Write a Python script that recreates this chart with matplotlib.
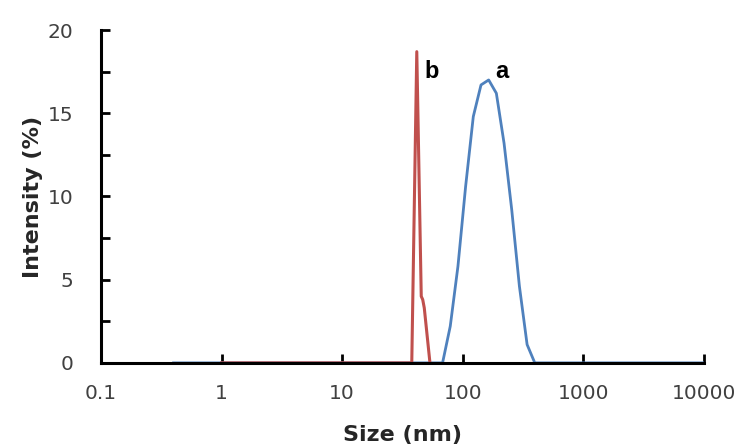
import numpy as np
import matplotlib.pyplot as plt
from matplotlib.ticker import FixedLocator, MultipleLocator, FixedFormatter

# sample a (blue) - size in nm, intensity in %
size_a = [0.4, 58.77, 68.06, 78.82, 91.28, 105.7, 122.4, 141.8, 164.2,
          190.1, 220.2, 255.0, 295.3, 342.0, 396.1, 10000]
int_a = [0, 0, 0, 2.2, 5.8, 10.6, 14.8, 16.7, 17.0,
         16.2, 13.2, 9.2, 4.6, 1.1, 0, 0]

# sample b (red)
size_b = [1.0, 37.8, 41.6, 45.3, 46.6, 48.0, 53.5]
int_b = [0, 0, 18.7, 4.0, 3.8, 3.3, 0]

xticks = [0.1, 1, 10, 100, 1000, 10000]
xtick_labels = ['0.1', '1', '10', '100', '1000', '10000']

blue = '#4F81BD'
red = '#C0504D'
grey = '#404040'

fig = plt.figure(figsize=(7.48, 4.48), dpi=100)
ax = fig.add_axes([0.135, 0.19, 0.806, 0.743])

ax.plot(size_a, int_a, color=blue, lw=2.0, solid_joinstyle='round')
ax.plot(size_b, int_b, color=red, lw=2.2, solid_joinstyle='round')

ax.set_xscale('log')
ax.set_xlim(0.1, 10000)
ax.set_ylim(0, 20)

ax.xaxis.set_major_locator(FixedLocator(xticks))
ax.xaxis.set_major_formatter(FixedFormatter(xtick_labels))
ax.xaxis.set_minor_locator(FixedLocator([]))
ax.yaxis.set_major_locator(MultipleLocator(5))
ax.yaxis.set_minor_locator(MultipleLocator(2.5))

for side in ['top', 'right']:
    ax.spines[side].set_visible(False)
for side in ['left', 'bottom']:
    ax.spines[side].set_linewidth(2.2)
    ax.spines[side].set_color('black')

ax.tick_params(axis='both', which='both', direction='in', width=2.0,
               length=6.5, color='black')
ax.tick_params(axis='x', which='major', pad=15, labelsize=14.5, labelcolor=grey)
ax.tick_params(axis='y', which='major', pad=20, labelsize=14.5, labelcolor=grey)

ax.set_xlabel('Size (nm)', fontsize=16, fontweight='bold', color='#262626',
              labelpad=16)
ax.set_ylabel('Intensity (%)', fontsize=16, fontweight='bold', color='#262626',
              labelpad=3)

ax.text(48.6, 17.1, 'b', fontsize=17, fontweight='bold', family='Liberation Sans',
        ha='left', va='baseline')
ax.text(185, 17.1, 'a', fontsize=17, fontweight='bold', family='Liberation Sans',
        ha='left', va='baseline')

fig.savefig('out.png', dpi=100)
